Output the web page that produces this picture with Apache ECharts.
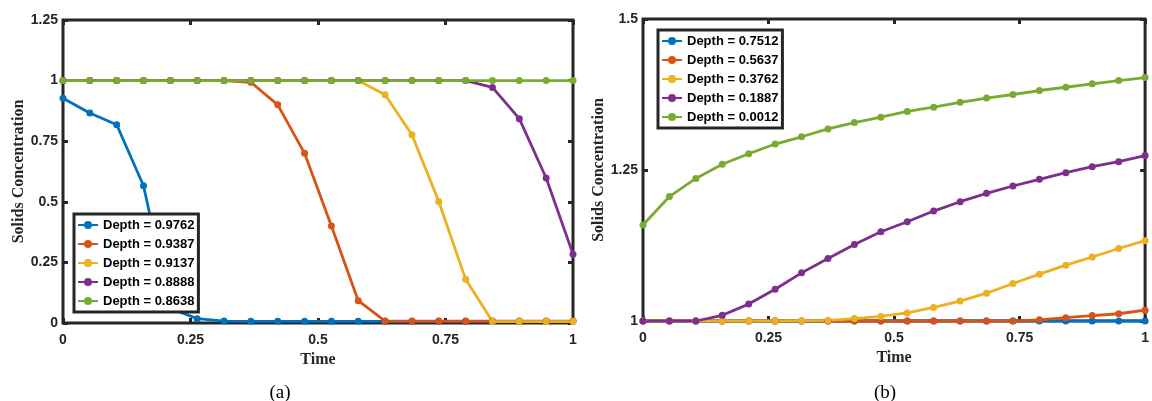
<!DOCTYPE html>
<html>
<head>
<meta charset="utf-8">
<script src="https://cdn.jsdelivr.net/npm/echarts@6/dist/echarts.min.js"></script>
<style>
  html, body { margin: 0; padding: 0; background: #fff; }
  #chart { width: 1152px; height: 401px; }
</style>
</head>
<body>
<div id="chart"></div>
<script>
// time samples shared by both panels (20 points)
var time = [0, 0.0526, 0.1053, 0.1579, 0.2105, 0.2632, 0.3158, 0.3684, 0.4211, 0.4737,
  0.5263, 0.5789, 0.6316, 0.6842, 0.7368, 0.7895, 0.8421, 0.8947, 0.9474, 1]

// panel (a)
var namesA = ['Depth = 0.9762', 'Depth = 0.9387', 'Depth = 0.9137', 'Depth = 0.8888', 'Depth = 0.8638']
var blueA = [0.927, 0.866, 0.818, 0.566, 0.06, 0.018, 0.008, 0.007, 0.007, 0.007, 0.007, 0.007, 0.007, 0.007, 0.007, 0.007, 0.007, 0.007, 0.007, 0.007]
var redA = [1, 1, 1, 1, 1, 1, 1, 0.993, 0.90, 0.70, 0.40, 0.092, 0.008, 0.008, 0.008, 0.008, 0.008, 0.008, 0.008, 0.008]
var yellowA = [1, 1, 1, 1, 1, 1, 1, 1, 1, 1, 1, 1, 0.942, 0.777, 0.501, 0.18, 0.006, 0.006, 0.006, 0.006]
var purpleA = [1, 1, 1, 1, 1, 1, 1, 1, 1, 1, 1, 1, 1, 1, 1, 1, 0.972, 0.843, 0.598, 0.284]
var greenA = [1, 1, 1, 1, 1, 1, 1, 1, 1, 1, 1, 1, 1, 1, 1, 1, 1, 1, 1, 1]

// panel (b)
var namesB = ['Depth = 0.7512', 'Depth = 0.5637', 'Depth = 0.3762', 'Depth = 0.1887', 'Depth = 0.0012']
var blueB = [1, 1, 1, 1, 1, 1, 1, 1, 1, 1, 1, 1, 1, 1, 1, 1, 1, 1, 1, 1]
var redB = [1, 1, 1, 1, 1, 1, 1, 1, 1, 1, 1, 1, 1, 1, 1, 1.002, 1.0055, 1.009, 1.012, 1.018]
var yellowB = [1, 1, 1, 1, 1, 1, 1.0005, 1.001, 1.004, 1.0075, 1.0133, 1.0225, 1.033, 1.046, 1.062, 1.0775, 1.0924, 1.106, 1.12, 1.133]
var purpleB = [1, 1, 1, 1.0095, 1.028, 1.0526, 1.0797, 1.1035, 1.1268, 1.1477, 1.1643, 1.182, 1.1975, 1.2113, 1.2235, 1.2346, 1.2456, 1.2555, 1.2638, 1.2738]
var greenB = [1.159, 1.206, 1.236, 1.2595, 1.277, 1.293, 1.305, 1.318, 1.3285, 1.3375, 1.347, 1.354, 1.362, 1.369, 1.375, 1.3816, 1.387, 1.3927, 1.398, 1.403]

var colors = ['#0072BD', '#D95319', '#EDB120', '#7E2F8E', '#77AC30']
var frame = '#262626'
var sans = 'Liberation Sans, Arial, sans-serif'
var serif = 'Liberation Serif, Times New Roman, serif'

function pairs (ys) {
  return time.map(function (t, i) { return [t, ys[i]] })
}

function xAxis (grid, top) {
  return {
    type: 'value', gridIndex: grid, min: 0, max: 1, interval: 0.25,
    position: top ? 'top' : 'bottom',
    name: top ? '' : 'Time',
    nameLocation: 'middle', nameGap: 27,
    nameTextStyle: { fontFamily: serif, fontWeight: 'bold', fontSize: 16, color: frame },
    axisLine: { show: false, onZero: false },
    axisTick: { inside: true, length: 5, lineStyle: { color: frame, width: 3 } },
    axisLabel: { show: !top, margin: 10, fontFamily: sans, fontWeight: 'bold', fontSize: 14, color: frame },
    splitLine: { show: false }
  }
}

function yAxis (grid, right, min, max) {
  return {
    type: 'value', gridIndex: grid, min: min, max: max, interval: 0.25,
    position: right ? 'right' : 'left',
    name: right ? '' : 'Solids Concentration',
    nameLocation: 'middle', nameGap: 36, nameRotate: 90,
    nameTextStyle: { fontFamily: serif, fontWeight: 'bold', fontSize: 16, color: frame },
    axisLine: { show: false, onZero: false },
    axisTick: { inside: true, length: 5, lineStyle: { color: frame, width: 3 } },
    axisLabel: { show: !right, margin: 5, fontFamily: sans, fontWeight: 'bold', fontSize: 14, color: frame },
    splitLine: { show: false }
  }
}

function makeSeries (names, list, xi, yi) {
  var series = []
  for (var i = 0; i < names.length; i++) {
    series.push({
      type: 'line',
      name: names[i],
      xAxisIndex: xi,
      yAxisIndex: yi,
      data: pairs(list[i]),
      symbol: 'circle',
      symbolSize: 7,
      showAllSymbol: true,
      color: colors[i],
      lineStyle: { width: 2.8 }
    })
  }
  return series
}

function legend (names, left, top) {
  return {
    data: names,
    orient: 'vertical',
    left: left,
    top: top,
    backgroundColor: '#fff',
    borderColor: frame,
    borderWidth: 3,
    padding: [4, 4, 4, 3],
    itemGap: 5,
    itemWidth: 20,
    itemHeight: 10,
    textStyle: { fontFamily: sans, fontWeight: 'bold', fontSize: 13, color: '#000', lineHeight: 14 }
  }
}

var chart = echarts.init(document.getElementById('chart'), null, { renderer: 'canvas' })
var option = {
  animation: false,
  backgroundColor: '#fff',
  grid: [
    { left: 63, top: 20, width: 510, height: 303, show: true, borderColor: frame, borderWidth: 3 },
    { left: 643, top: 19, width: 505, height: 302, show: true, borderColor: frame, borderWidth: 3 }
  ],
  xAxis: [xAxis(0, false), xAxis(0, true), xAxis(1, false), xAxis(1, true)],
  yAxis: [yAxis(0, false, 0, 1.25), yAxis(0, true, 0, 1.25), yAxis(1, false, 1, 1.5), yAxis(1, true, 1, 1.5)],
  legend: [legend(namesA, 74, 214), legend(namesB, 658, 30)],
  graphic: [
    { type: 'text', x: 280, y: 393, style: { text: '(a)', fontFamily: serif, fontSize: 19, fill: '#000', align: 'center', verticalAlign: 'middle' } },
    { type: 'text', x: 885, y: 393, style: { text: '(b)', fontFamily: serif, fontSize: 19, fill: '#000', align: 'center', verticalAlign: 'middle' } }
  ],
  series: makeSeries(namesA, [blueA, redA, yellowA, purpleA, greenA], 0, 0)
    .concat(makeSeries(namesB, [blueB, redB, yellowB, purpleB, greenB], 2, 2))
}
chart.setOption(option)
</script>
</body>
</html>
